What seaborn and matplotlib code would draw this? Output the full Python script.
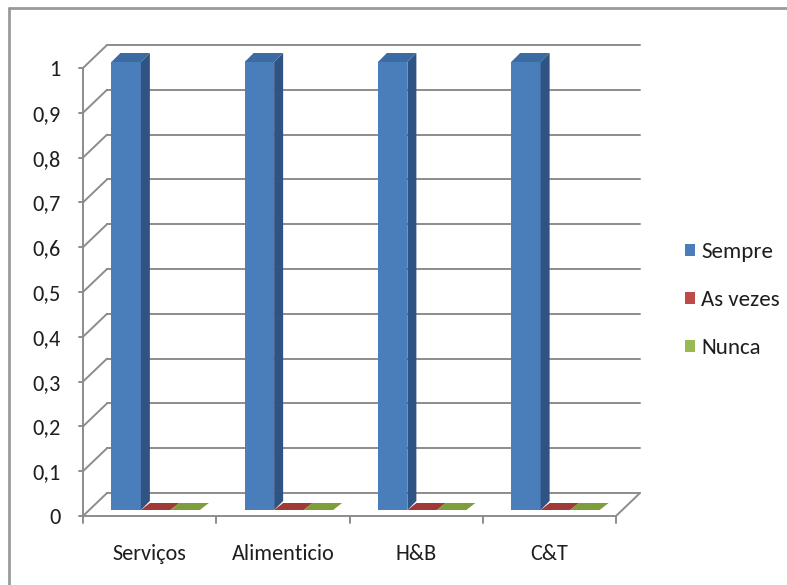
import matplotlib
matplotlib.use('Agg')
import matplotlib.pyplot as plt
import seaborn as sns
import pandas as pd
from matplotlib import font_manager
from matplotlib.patches import Polygon
from matplotlib.lines import Line2D
from matplotlib.transforms import IdentityTransform

# ── Data ──────────────────────────────────────────────────────────────────────
categories = ['Serviços', 'Alimenticio', 'H&B', 'C&T']
series     = ['Sempre', 'As vezes', 'Nunca']
sempre     = [1, 1, 1, 1]
as_vezes   = [0, 0, 0, 0]
nunca      = [0, 0, 0, 0]
y_ticks    = [0, 0.1, 0.2, 0.3, 0.4, 0.5, 0.6, 0.7, 0.8, 0.9, 1]

front_cols = {'Sempre': '#4A7EBB', 'As vezes': '#BE4B48', 'Nunca': '#98B954'}
top_cols   = {'Sempre': '#3C6AA3', 'As vezes': '#A03A37', 'Nunca': '#7E9E3C'}
side_cols  = {'Sempre': '#2F5383', 'As vezes': '#8A2F2D', 'Nunca': '#6A8733'}
GRID = '#8C8C8C'

df = pd.DataFrame({
    'cat':   categories * 3,
    'serie': [s for s in series for _ in categories],
    'val':   sempre + as_vezes + nunca,
})

# pick a Calibri-like font if one is around
font = 'DejaVu Sans'
for cand in ['Carlito', 'Liberation Sans Narrow', 'Lato']:
    try:
        font_manager.findfont(cand, fallback_to_default=False)
        font = cand
        break
    except Exception:
        pass

sns.set_theme(style='white')
plt.rcParams['font.family'] = [font, 'DejaVu Sans']

W, H = 787, 585
fig = plt.figure(figsize=(W / 100, H / 100), dpi=100)

# front plane of the 3D box, in pixels
L, R, T, B = 83, 616, 68, 516
ax = fig.add_axes([L / W, (H - B) / H, (R - L) / W, (B - T) / H])
ax.patch.set_alpha(0)
for s in ax.spines.values():
    s.set_visible(False)

# bars (front faces come from seaborn, depth faces are added below)
sns.barplot(data=df, x='cat', y='val', hue='serie', hue_order=series,
            palette=front_cols, width=0.664, saturation=1, ax=ax,
            linewidth=0, zorder=3)
ax.set_xlim(-0.5, 3.5)
ax.set_ylim(0, 1)

BACK = (24, 23)     # depth of the box (px, up is +)
PLANE = (6, 6)      # where the bar row sits inside the box
DEPTH = (9, 9)      # depth of a single bar

def px(x, y, off=(0, 0)):
    X, Y = ax.transData.transform((x, y))
    return (X + off[0], Y + off[1])

def seg(p0, p1, **kw):
    ax.add_line(Line2D([p0[0], p1[0]], [p0[1], p1[1]], transform=IdentityTransform(),
                       color=GRID, lw=1.4, clip_on=False, **kw))

def poly(pts, color):
    ax.add_patch(Polygon(pts, closed=True, transform=IdentityTransform(),
                         facecolor=color, lw=0, clip_on=False, zorder=4))

# walls / gridlines
for v in y_ticks:
    seg(px(-0.5, v), px(-0.5, v, BACK), zorder=1)
    seg(px(-0.5, v, BACK), px(3.5, v, BACK), zorder=1)
    seg(px(-0.5, v, (-4, 0)), px(-0.5, v), zorder=1)
# floor front edge, right edge, front axis
seg(px(-0.5, 0), px(3.5, 0), zorder=1)
seg(px(3.5, 0), px(3.5, 0, BACK), zorder=1)
seg(px(-0.5, 0), px(-0.5, 1), zorder=1)
for i in range(5):
    seg(px(i - 0.5, 0), px(i - 0.5, 0, (0, -7)), zorder=1)

dx, dy = DEPTH
for serie, cont in zip(series, ax.containers):
    for p in cont.patches:
        x0, w, h = p.get_x(), p.get_width(), p.get_height()
        fl = px(x0, 0, PLANE)
        fr = px(x0 + w, 0, PLANE)
        tl = px(x0, h, PLANE)
        tr = px(x0 + w, h, PLANE)
        p.set_visible(False)
        if h > 0:
            poly([fl, fr, tr, tl], front_cols[serie])
            poly([fr, (fr[0] + dx, fr[1] + dy), (tr[0] + dx, tr[1] + dy), tr], side_cols[serie])
            poly([tl, tr, (tr[0] + dx, tr[1] + dy), (tl[0] + dx, tl[1] + dy)], top_cols[serie])
        else:
            poly([tl, tr, (tr[0] + dx, tr[1] + dy - 2), (tl[0] + dx, tl[1] + dy - 2)],
                 top_cols[serie])

# axis labels
ax.set_yticks(y_ticks)
ax.set_yticklabels([f'{v:g}'.replace('.', ',') for v in y_ticks], fontsize=16, color='#1E1E1E')
ax.tick_params(axis='y', length=0, pad=16)
ax.set_xticks(range(len(categories)))
ax.set_xticklabels(categories, fontsize=16, color='#1E1E1E')
ax.tick_params(axis='x', length=0, pad=20)
ax.set_xlabel('')
ax.set_ylabel('')

handles, labels = ax.get_legend_handles_labels()
ax.legend(handles, labels, loc='center left', bbox_to_anchor=(685 / W, (H - 300) / H),
          bbox_transform=fig.transFigure, frameon=False, fontsize=16.5,
          handlelength=0.45, handleheight=0.45, handletextpad=0.25, labelspacing=1.22,
          borderpad=0, borderaxespad=0)
for t in ax.get_legend().get_texts():
    t.set_color('#1E1E1E')

# outer chart border
fig.add_artist(Line2D([9 / W, 9 / W], [0, 1 - 8 / H], color='#9A9A9A', lw=2))
fig.add_artist(Line2D([9 / W, 1], [1 - 8 / H, 1 - 8 / H], color='#9A9A9A', lw=2))

fig.savefig('out.png', dpi=100)
